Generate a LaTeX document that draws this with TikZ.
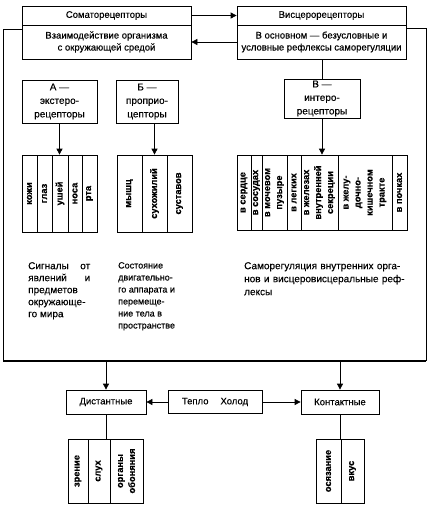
\documentclass[tikz,border=0pt]{standalone}
\usepackage{fontspec}
\setmainfont{Liberation Sans}[FakeBold=0.3]
\usetikzlibrary{arrows.meta}
\begin{document}
\begin{tikzpicture}[x=1pt,y=-1pt,
  every node/.style={inner sep=1pt},
  box/.style={draw, line width=0.75pt, align=center, font=\fontsize{9.5}{12}\selectfont},
  mbox/.style={draw, line width=0.75pt, align=center, font=\fontsize{10}{13.5}\selectfont},
  bbox/.style={draw, line width=0.75pt, align=center, font=\fontsize{9.5}{12}\selectfont},
  frame/.style={draw, line width=0.75pt, inner sep=0pt},
  cell/.style={draw, line width=0.75pt, rotate=90, inner sep=0.3pt, font=\bfseries\fontsize{9.3}{12}\selectfont},
  mcell/.style={cell, align=center},
  arr/.style={line width=0.75pt, -{Triangle[length=6pt,width=6pt]}},
  ln/.style={line width=0.75pt},
  txt/.style={anchor=north west, align=justify, inner sep=0pt}
]
\useasboundingbox (0,0) rectangle (430,507);

% top boxes
\node[box, minimum width=169, minimum height=19] (somt) at (106.5,15.5) {Соматорецепторы};
\node[box, minimum width=169, minimum height=34] (somb) at (106.5,42) {Взаимодействие организма\\с окружающей средой};
\node[box, minimum width=169, minimum height=19] (visct) at (321.5,15.5) {Висцерорецепторы};
\node[box, minimum width=169, minimum height=34] (viscb) at (321.5,42) {В основном — безусловные и\\условные рефлексы саморегуляции};

\draw[arr] (somt.east) -- (visct.west);
\draw[arr] (viscb.west) -- (somb.east);

% outer frame
\coordinate (ftl) at (3,29);
\coordinate (fbl) at (3,361);
\coordinate (fbr) at (426,361);
\coordinate (ftr) at (426,28);
\draw[ln] (somb.west |- ftl) -- (ftl) -- (fbl);
\draw[ln] (viscb.east |- ftr) -- (ftr) -- (fbr);
\draw[line width=1.8pt] (fbl) -- (fbr);

% middle boxes
\node[mbox, minimum width=75, minimum height=43] (abox) at (59.5,101.5) {А —\\экстеро-\\рецепторы};
\node[mbox, minimum width=62, minimum height=43] (bboxn) at (147,101.5) {Б —\\проприо-\\цепторы};
\node[mbox, minimum width=76, minimum height=39] (vbox) at (322,98.5) {В —\\интеро-\\рецепторы};

\draw[ln] (vbox.north |- viscb.south) -- (vbox.north);

% sub boxes A
\node[frame, minimum width=75, minimum height=77] (asub) at (59.5,193.5) {};
\node[cell, minimum width=77, minimum height=15] at (29.5,193.5) {кожи};
\node[cell, minimum width=77, minimum height=15] at (44.5,193.5) {глаз};
\node[cell, minimum width=77, minimum height=16] at (60,193.5) {ушей};
\node[cell, minimum width=77, minimum height=14] at (75,193.5) {носа};
\node[cell, minimum width=77, minimum height=15] at (89.5,193.5) {рта};
% sub boxes B
\node[frame, minimum width=75, minimum height=77] (bsub) at (154.5,193.5) {};
\node[cell, minimum width=77, minimum height=25] at (129.5,193.5) {мышц};
\node[cell, minimum width=77, minimum height=25] at (154.5,193.5) {сухожилий};
\node[cell, minimum width=77, minimum height=25] at (179.5,193.5) {суставов};
% sub boxes V
\node[frame, minimum width=170, minimum height=75] (vsub) at (322,192.5) {};
\node[cell, minimum width=75, minimum height=14] at (244,192.5) {в сердце};
\node[cell, minimum width=75, minimum height=11] at (256.5,192.5) {в сосудах};
\node[mcell, minimum width=75, minimum height=25] at (274.5,192.5) {в мочевом\\пузыре};
\node[cell, minimum width=75, minimum height=14] at (294,192.5) {в легких};
\node[mcell, minimum width=75, minimum height=37] at (319.5,192.5) {в железах\\внутренней\\секреции};
\node[mcell, minimum width=75, minimum height=54] at (365,192.5) {в желу-\\дочно-\\кишечном\\тракте};
\node[cell, minimum width=75, minimum height=15] at (399.5,192.5) {в почках};

\draw[arr] (abox.south) -- (asub.north);
\draw[arr] (bsub.north |- bboxn.south) -- (bsub.north);
\draw[arr] (vbox.south) -- (vsub.north);

% text blocks
\node[txt, text width=62, font=\fontsize{10}{12}\selectfont] (t1) at (28,262)
  {Сигналы от\linebreak явлений и\linebreak предметов\\окружающе-\\го мира};
\node[txt, text width=58, font=\fontsize{9}{12}\selectfont] (t2) at (118,262)
  {Состояние\\двигательно-\\го аппарата и\\перемеще-\\ние тела в\\пространстве};
\node[txt, text width=170, align=left, font=\fontsize{10}{13}\selectfont] (t3) at (244,262)
  {Саморегуляция внутренних орга-\\нов и висцеровисцеральные реф-\\лексы};

% bottom boxes
\node[bbox, minimum width=80, minimum height=24] (dist) at (106,402) {Дистантные};
\node[bbox, minimum width=94, minimum height=23] (heat) at (215,402) {Тепло\hspace{12pt}Холод};
\node[bbox, minimum width=78, minimum height=24] (kont) at (340,402) {Контактные};

\draw[arr] (dist.north |- fbl) -- (dist.north);
\draw[arr] (kont.north |- fbl) -- (kont.north);
\draw[arr] (heat.west) -- (dist.east);
\draw[arr] (heat.east) -- (kont.west);

% bottom sub boxes
\node[frame, minimum width=75, minimum height=64] (dsub) at (105.5,471) {};
\node[cell, minimum width=64, minimum height=20] at (78,471) {зрение};
\node[cell, minimum width=64, minimum height=22] at (99,471) {слух};
\node[mcell, minimum width=64, minimum height=33] at (126.5,471) {органы\\обоняния};
\node[frame, minimum width=48, minimum height=64] (ksub) at (340,471) {};
\node[cell, minimum width=64, minimum height=25] at (328.5,471) {осязание};
\node[cell, minimum width=64, minimum height=23] at (352.5,471) {вкус};

\draw[ln] (dist.south) -- (dist.south |- dsub.north);
\draw[ln] (kont.south) -- (kont.south |- ksub.north);
\end{tikzpicture}
\end{document}
